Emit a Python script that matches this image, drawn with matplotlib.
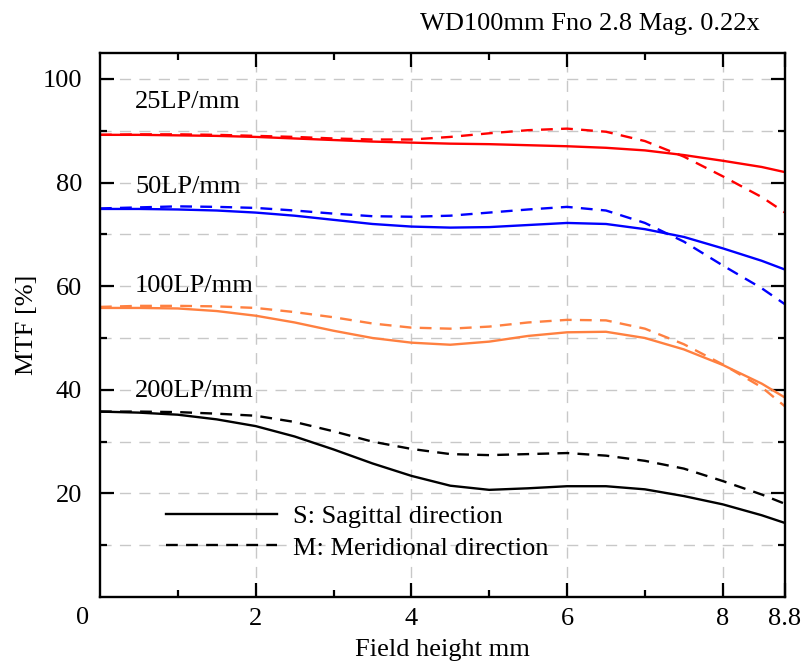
import matplotlib
matplotlib.use("Agg")
import matplotlib.pyplot as plt
from matplotlib.ticker import FixedLocator
from matplotlib.lines import Line2D

plt.rcParams['font.family'] = ['Liberation Serif', 'DejaVu Serif']

# field height (mm)
field = [0, 0.5, 1, 1.5, 2, 2.5, 3, 3.5, 4, 4.5, 5, 5.5, 6, 6.5, 7, 7.5, 8, 8.5, 8.8]

# MTF [%], S = sagittal, M = meridional
lp25_s = [89.2, 89.2, 89.1, 89.0, 88.8, 88.5, 88.2, 87.9, 87.7, 87.5, 87.4, 87.2, 87.0, 86.7, 86.2, 85.3, 84.2, 83.0, 82.0]
lp25_m = [89.2, 89.3, 89.3, 89.2, 89.0, 88.8, 88.5, 88.3, 88.3, 88.8, 89.5, 90.1, 90.4, 89.8, 88.0, 85.0, 81.2, 77.2, 74.2]
lp50_s = [74.9, 74.9, 74.8, 74.6, 74.2, 73.6, 72.8, 72.0, 71.5, 71.3, 71.4, 71.8, 72.2, 72.0, 71.0, 69.5, 67.3, 64.9, 63.2]
lp50_m = [75.0, 75.2, 75.4, 75.3, 75.1, 74.6, 74.0, 73.5, 73.4, 73.6, 74.2, 74.8, 75.3, 74.6, 72.2, 68.6, 64.0, 59.6, 56.5]
lp100_s = [55.8, 55.8, 55.7, 55.2, 54.3, 53.0, 51.4, 50.0, 49.1, 48.7, 49.3, 50.4, 51.1, 51.2, 50.0, 47.8, 44.8, 41.2, 38.5]
lp100_m = [56.0, 56.2, 56.2, 56.1, 55.8, 55.0, 54.0, 52.8, 52.0, 51.8, 52.2, 53.0, 53.5, 53.4, 51.8, 48.8, 44.9, 40.5, 36.8]
lp200_s = [35.8, 35.6, 35.2, 34.3, 33.0, 31.0, 28.5, 25.8, 23.4, 21.5, 20.7, 21.0, 21.4, 21.4, 20.8, 19.5, 17.9, 15.8, 14.3]
lp200_m = [35.8, 35.8, 35.7, 35.4, 35.0, 33.8, 32.0, 30.0, 28.6, 27.6, 27.4, 27.6, 27.8, 27.3, 26.3, 24.8, 22.4, 19.8, 18.0]

labels = ['25LP/mm', '50LP/mm', '100LP/mm', '200LP/mm']
label_y = [95.6, 79.2, 60.0, 39.8]
colors = ['#ff0000', '#0000ff', '#ff8040', '#000000']
s_series = [lp25_s, lp50_s, lp100_s, lp200_s]
m_series = [lp25_m, lp50_m, lp100_m, lp200_m]

xticks = [2, 4, 6, 8, 8.8]
yticks = [20, 40, 60, 80, 100]

fs = 19
lw = 1.7
dash = (0, (5, 3.5))
grid_dash = (0, (8, 6))

fig = plt.figure(figsize=(8.06, 6.62), dpi=100)
ax = fig.add_axes([0.124, 0.098, 0.850, 0.822])

for c, s, m in zip(colors, s_series, m_series):
    ax.plot(field, s, color=c, lw=lw)
    ax.plot(field, m, color=c, lw=lw, linestyle=dash)

for lab, y in zip(labels, label_y):
    ax.text(0.45, y, lab, fontsize=fs, va='center', ha='left')

ax.set_xlim(0, 8.8)
ax.set_ylim(0, 105)

ax.xaxis.set_major_locator(FixedLocator(xticks))
ax.xaxis.set_minor_locator(FixedLocator([1, 3, 5, 7]))
ax.set_xticklabels(['2', '4', '6', '8', '8.8'])
ax.yaxis.set_major_locator(FixedLocator(yticks))
ax.yaxis.set_minor_locator(FixedLocator([10, 30, 50, 70, 90]))

ax.tick_params(which='both', direction='in', top=True, right=True, width=1.6, labelsize=fs)
ax.tick_params(which='major', length=10)
ax.tick_params(which='minor', length=5)
ax.tick_params(axis='y', pad=13)
ax.tick_params(axis='x', pad=8)
for sp in ax.spines.values():
    sp.set_linewidth(1.7)

ax.set_axisbelow(True)
ax.grid(True, axis='x', which='major', color='#c8c8c8', linestyle=grid_dash, lw=1.0)
ax.grid(True, axis='y', which='both', color='#c8c8c8', linestyle=grid_dash, lw=1.0)

ax.text(-0.025, -0.018, '0', transform=ax.transAxes, fontsize=fs, ha='center', va='top')

ax.set_xlabel('Field height mm', fontsize=fs, labelpad=6)
ax.set_ylabel('MTF [%]', fontsize=fs, labelpad=3)

handles = [Line2D([], [], color='k', lw=lw),
           Line2D([], [], color='k', lw=lw, linestyle=dash)]
ax.legend(handles, ['S: Sagittal direction', 'M: Meridional direction'],
          loc='lower left', bbox_to_anchor=(0.07, 0.035), frameon=False,
          fontsize=fs, handlelength=4.2, handletextpad=0.6, labelspacing=0.3,
          borderpad=0.2)

fig.text(0.943, 0.964, 'WD100mm Fno 2.8 Mag. 0.22x', fontsize=fs, ha='right', va='center')

fig.savefig('out.png', dpi=100)
